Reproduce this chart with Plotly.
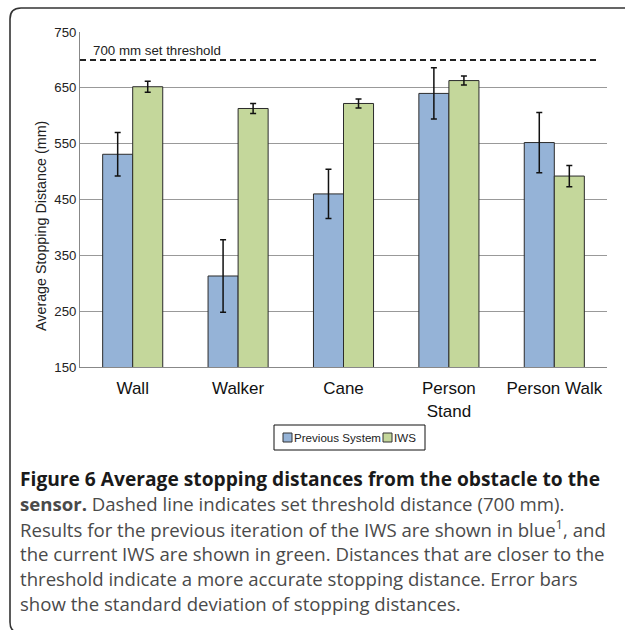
import plotly.graph_objects as go

categories = ["Wall", "Walker", "Cane", "Person<br>Stand", "Person Walk"]
prev_mean = [531, 313, 460, 640, 552]
prev_sd = [39, 65, 44, 46, 54]
iws_mean = [652, 613, 622, 663, 492]
iws_sd = [10, 9, 8, 8, 19]
threshold = 700
threshold_label = "700 mm set threshold"
y_ticks = [150, 250, 350, 450, 550, 650, 750]
y_title = "Average Stopping Distance (mm)"
series_names = ["Previous System", "IWS"]
series_colors = ["#95b3d7", "#c4d79b"]
caption_lines = [
    "<b>Figure 6 Average stopping distances from the obstacle to the</b>",
    "<b>sensor.</b> Dashed line indicates set threshold distance (700 mm).",
    "Results for the previous iteration of the IWS are shown in blue<sup>1</sup>, and",
    "the current IWS are shown in green. Distances that are closer to the",
    "threshold indicate a more accurate stopping distance. Error bars",
    "show the standard deviation of stopping distances.",
]

W, H = 625, 630
L, R, T, B = 80, 607, 32, 367


def px2x(px):
    return (px - L) / (R - L)


def px2y(py):
    return (B - py) / (B - T)


AX_FONT = "Liberation Sans, Arial, sans-serif"
CAP_FONT = "Open Sans, Noto Sans, sans-serif"

fig = go.Figure()
for name, means, sds, col in [(series_names[0], prev_mean, prev_sd, series_colors[0]),
                              (series_names[1], iws_mean, iws_sd, series_colors[1])]:
    fig.add_trace(go.Bar(
        name=name, x=categories, y=means,
        marker=dict(color=col, line=dict(color="#2b2b2b", width=1)),
        error_y=dict(type="data", array=sds, visible=True, color="#111", thickness=1.5, width=3),
        showlegend=False,
    ))

shapes = [
    dict(type="line", xref="paper", yref="y", x0=0, x1=px2x(597), y0=threshold, y1=threshold,
         line=dict(color="#222", width=2, dash="6px,4px")),
]
# rounded outer frame
fl, ft, fb, fr, rad = 10, 8, 633, 626, 11
path = (f"M {px2x(fr)},{px2y(ft)} L {px2x(fl + rad)},{px2y(ft)} "
        f"Q {px2x(fl)},{px2y(ft)} {px2x(fl)},{px2y(ft + rad)} "
        f"L {px2x(fl)},{px2y(fb - rad)} "
        f"Q {px2x(fl)},{px2y(fb)} {px2x(fl + rad)},{px2y(fb)} "
        f"L {px2x(fr)},{px2y(fb)}")
shapes.append(dict(type="path", xref="paper", yref="paper", path=path,
                   line=dict(color="#333", width=1.6)))

# legend box
lg_l, lg_r, lg_t, lg_b = 274, 425, 425, 450
shapes.append(dict(type="rect", xref="paper", yref="paper", x0=px2x(lg_l), x1=px2x(lg_r),
                   y0=px2y(lg_b), y1=px2y(lg_t), line=dict(color="#111", width=1), fillcolor="white"))
lg_cy = (lg_t + lg_b) / 2
annotations = []
sq_x = [283, 383]
for sx, name, col in zip(sq_x, series_names, series_colors):
    shapes.append(dict(type="rect", xref="paper", yref="paper", x0=px2x(sx), x1=px2x(sx + 9),
                       y0=px2y(lg_cy + 4.5), y1=px2y(lg_cy - 4.5),
                       line=dict(color="#333", width=1), fillcolor=col))
    annotations.append(dict(text=name, xref="paper", yref="paper", x=px2x(sx + 9), y=px2y(lg_cy),
                            xanchor="left", yanchor="middle", showarrow=False,
                            font=dict(family=AX_FONT, size=11.6, color="#222")))

annotations.append(
    dict(text=threshold_label, xref="paper", yref="y", x=px2x(91), y=threshold,
         xanchor="left", yanchor="bottom", yshift=0, showarrow=False,
         font=dict(family=AX_FONT, size=13.3, color="#222")))
annotations.append(
    dict(text=y_title, xref="paper", yref="paper", x=px2x(41), y=px2y(226),
         xanchor="center", yanchor="middle", textangle=-90, showarrow=False,
         font=dict(family=AX_FONT, size=14.3, color="#222")))
cap_y0 = 478
for i, line in enumerate(caption_lines):
    annotations.append(dict(
        text=line, xref="paper", yref="paper", x=px2x(18), y=px2y(cap_y0 + 25 * i),
        xanchor="left", yanchor="middle", showarrow=False,
        font=dict(family=CAP_FONT, size=19.2 if i == 0 else 18.6, color="#1a1a1a" if i == 0 else "#4a4a4a"),
    ))

fig.update_layout(
    width=W, height=H,
    margin=dict(l=L, r=W - R, t=T, b=H - B),
    paper_bgcolor="white", plot_bgcolor="white",
    barmode="group", bargap=0.43, bargroupgap=0,
    shapes=shapes, annotations=annotations,
    showlegend=False,
)
fig.update_yaxes(range=[150, 750], tickvals=y_ticks, showgrid=True, gridcolor="#999", gridwidth=1,
                 showline=True, linecolor="#888", linewidth=1, ticks="", zeroline=False,
                 tickfont=dict(family=AX_FONT, size=13.2, color="#222"))
fig.update_xaxes(showline=True, linecolor="#888", linewidth=1, ticks="outside", ticklen=6,
                 tickcolor="rgba(0,0,0,0)", showgrid=False,
                 tickfont=dict(family=AX_FONT, size=17, color="#111"))

fig.write_html("out.html", config={"displayModeBar": False},
               post_script="document.body.style.margin='0';document.body.style.overflow='hidden';")
